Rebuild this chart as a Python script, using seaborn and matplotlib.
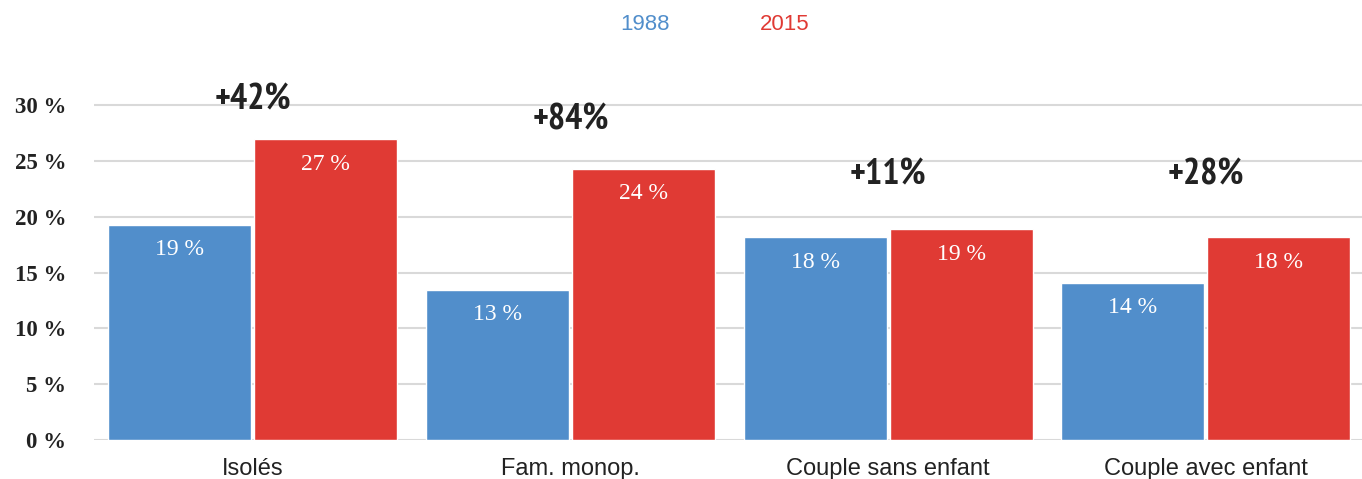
import matplotlib
matplotlib.use("Agg")
import matplotlib.pyplot as plt
import seaborn as sns
import pandas as pd
from matplotlib import font_manager as fm

categories = ["Isolés", "Fam. monop.", "Couple sans enfant", "Couple avec enfant"]
years = ["1988", "2015"]
values_1988 = [19.3, 13.45, 18.2, 14.1]
values_2015 = [26.95, 24.3, 18.9, 18.2]
growth_labels = ["+42%", "+84%", "+11%", "+28%"]
yticks = [0, 5, 10, 15, 20, 25, 30]

colors = {"1988": "#518ecb", "2015": "#e03a34"}

df = pd.DataFrame({
    "cat": categories * 2,
    "year": [years[0]] * 4 + [years[1]] * 4,
    "val": values_1988 + values_2015,
})

sns.set_theme(style="white")
plt.rcParams["font.family"] = ["Liberation Sans", "DejaVu Sans"]

# look for a narrow / condensed bold face for the growth labels
narrow_fp = None
cands = []
for f in fm.fontManager.ttflist:
    fn = f.fname.lower()
    if ("narrow" in fn or "condensed" in fn) and "bold" in fn and "oblique" not in fn and "italic" not in fn:
        cands.append(f.fname)
cands.sort(key=lambda p: (0 if "narrow" in p.lower() else 1, p))
if cands:
    narrow_fp = fm.FontProperties(fname=cands[0], size=26)
else:
    narrow_fp = fm.FontProperties(family="DejaVu Sans", weight="bold", stretch="condensed", size=22)

fig = plt.figure(figsize=(13.62, 4.79), dpi=100)
ax = fig.add_axes([0.069, 0.0814, 0.933, 0.815])

sns.barplot(data=df, x="cat", y="val", hue="year", order=categories,
            hue_order=years, palette=colors, width=0.92, gap=0.022,
            saturation=1, legend=False, ax=ax)

ax.set_xlim(-0.5, 3.5)
ax.set_ylim(0, 35)
ax.set_yticks(yticks)
ax.set_yticklabels([f"{t} %" for t in yticks], family="Liberation Serif",
                   fontweight="bold", fontsize=16.5, color="#222222")
ax.tick_params(axis="y", length=0, pad=20)
ax.tick_params(axis="x", length=0, pad=13, labelsize=17, labelcolor="#222222")
ax.set_xlabel("")
ax.set_ylabel("")
ax.yaxis.grid(True, color="#d9d9d9", linewidth=1.5)
ax.set_axisbelow(True)
for s in ax.spines.values():
    s.set_visible(False)

# value labels inside bars
for container in ax.containers:
    for bar in container:
        h = bar.get_height()
        ax.annotate(f"{round(h):.0f} %", (bar.get_x() + bar.get_width() / 2, h),
                    xytext=(0, -18), textcoords="offset points",
                    ha="center", va="center", color="white",
                    family="Liberation Serif", fontsize=17)

# growth annotations
growth_y = [30.5, 28.7, 23.8, 23.8]
for i, (lab, gy) in enumerate(zip(growth_labels, growth_y)):
    ax.text(i, gy, lab, ha="center", va="center", fontproperties=narrow_fp,
            color="#222222")

# legend as coloured text
fig.text(645 / 1362, 1 - 25 / 479, "1988", color=colors["1988"], fontsize=16,
         ha="center", va="center")
fig.text(785 / 1362, 1 - 25 / 479, "2015", color=colors["2015"], fontsize=16,
         ha="center", va="center")

fig.savefig("out.png", dpi=100)
